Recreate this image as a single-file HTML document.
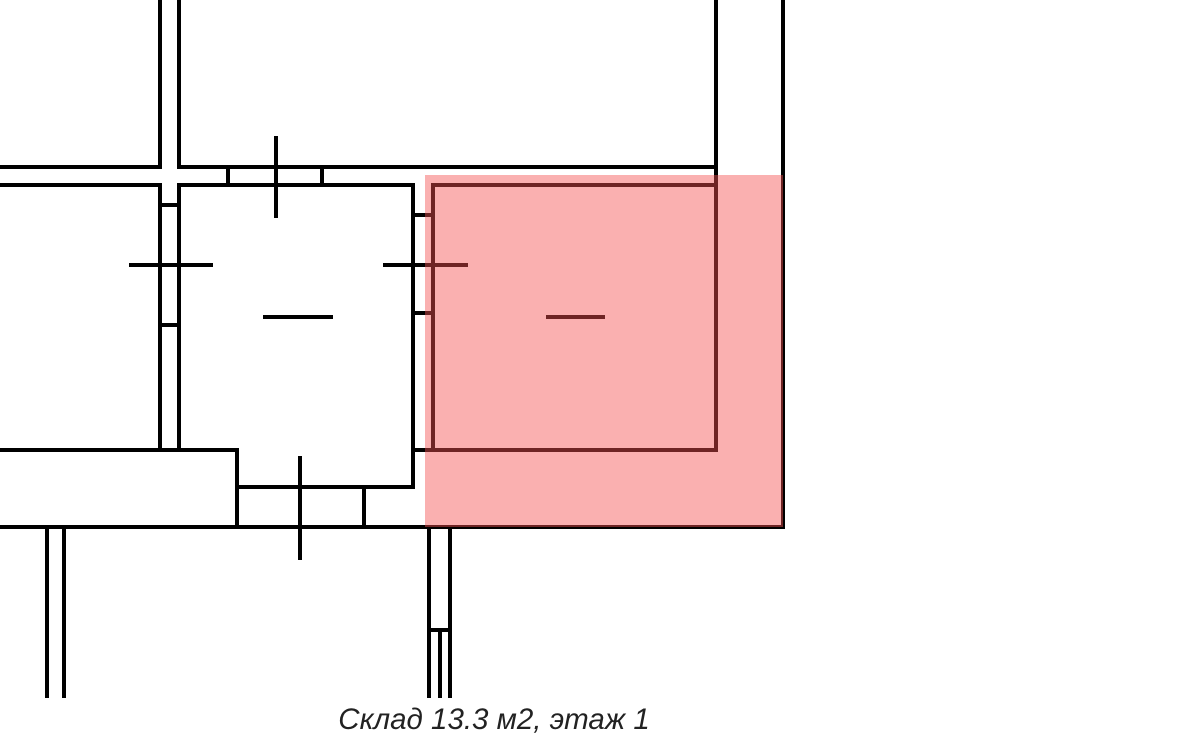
<!DOCTYPE html>
<html><head><meta charset="utf-8"><style>
html,body{margin:0;padding:0;background:#fff;width:1200px;height:745px;overflow:hidden}
</style></head><body>
<svg width="1200" height="745" viewBox="0 0 1200 745" xmlns="http://www.w3.org/2000/svg">
<g stroke="#000" stroke-width="4" fill="none" stroke-linecap="square">
<line x1="160" y1="0" x2="160" y2="167"/>
<line x1="179" y1="0" x2="179" y2="167"/>
<line x1="0" y1="167" x2="160" y2="167"/>
<line x1="0" y1="185" x2="160" y2="185"/>
<line x1="179" y1="167" x2="716" y2="167"/>
<line x1="179" y1="185" x2="413" y2="185"/>
<line x1="228" y1="167" x2="228" y2="185"/>
<line x1="322" y1="167" x2="322" y2="185"/>
<line x1="276" y1="136" x2="276" y2="218" stroke-linecap="butt"/>
<line x1="716" y1="0" x2="716" y2="450"/>
<line x1="783" y1="0" x2="783" y2="527"/>
<line x1="160" y1="185" x2="160" y2="450"/>
<line x1="179" y1="185" x2="179" y2="450"/>
<line x1="160" y1="205" x2="179" y2="205"/>
<line x1="160" y1="325" x2="179" y2="325"/>
<line x1="129" y1="265" x2="213" y2="265" stroke-linecap="butt"/>
<line x1="413" y1="185" x2="413" y2="487"/>
<line x1="237" y1="487" x2="413" y2="487"/>
<line x1="0" y1="450" x2="237" y2="450"/>
<line x1="237" y1="450" x2="237" y2="527"/>
<line x1="364" y1="487" x2="364" y2="527"/>
<line x1="0" y1="527" x2="783" y2="527"/>
<line x1="300" y1="456" x2="300" y2="560" stroke-linecap="butt"/>
<line x1="263" y1="317" x2="333" y2="317" stroke-linecap="butt"/>
<line x1="433" y1="185" x2="716" y2="185"/>
<line x1="433" y1="185" x2="433" y2="450"/>
<line x1="413" y1="450" x2="716" y2="450"/>
<line x1="413" y1="215" x2="433" y2="215"/>
<line x1="413" y1="313" x2="433" y2="313"/>
<line x1="383" y1="265" x2="468" y2="265" stroke-linecap="butt"/>
<line x1="546" y1="317" x2="605" y2="317" stroke-linecap="butt"/>
<line x1="47" y1="527" x2="47" y2="698" stroke-linecap="butt"/>
<line x1="64" y1="527" x2="64" y2="698" stroke-linecap="butt"/>
<line x1="429" y1="527" x2="429" y2="698" stroke-linecap="butt"/>
<line x1="450" y1="527" x2="450" y2="698" stroke-linecap="butt"/>
<line x1="429" y1="630" x2="450" y2="630"/>
<line x1="440" y1="630" x2="440" y2="698" stroke-linecap="butt"/>
</g>
<rect x="425" y="175" width="358" height="352" fill="rgb(245,80,80)" fill-opacity="0.45"/>
<text x="494" y="729" text-anchor="middle" font-family="Liberation Sans, DejaVu Sans, sans-serif" font-style="italic" font-size="29.5" fill="#222">Склад 13.3 м2, этаж 1</text>
</svg>
</body></html>
